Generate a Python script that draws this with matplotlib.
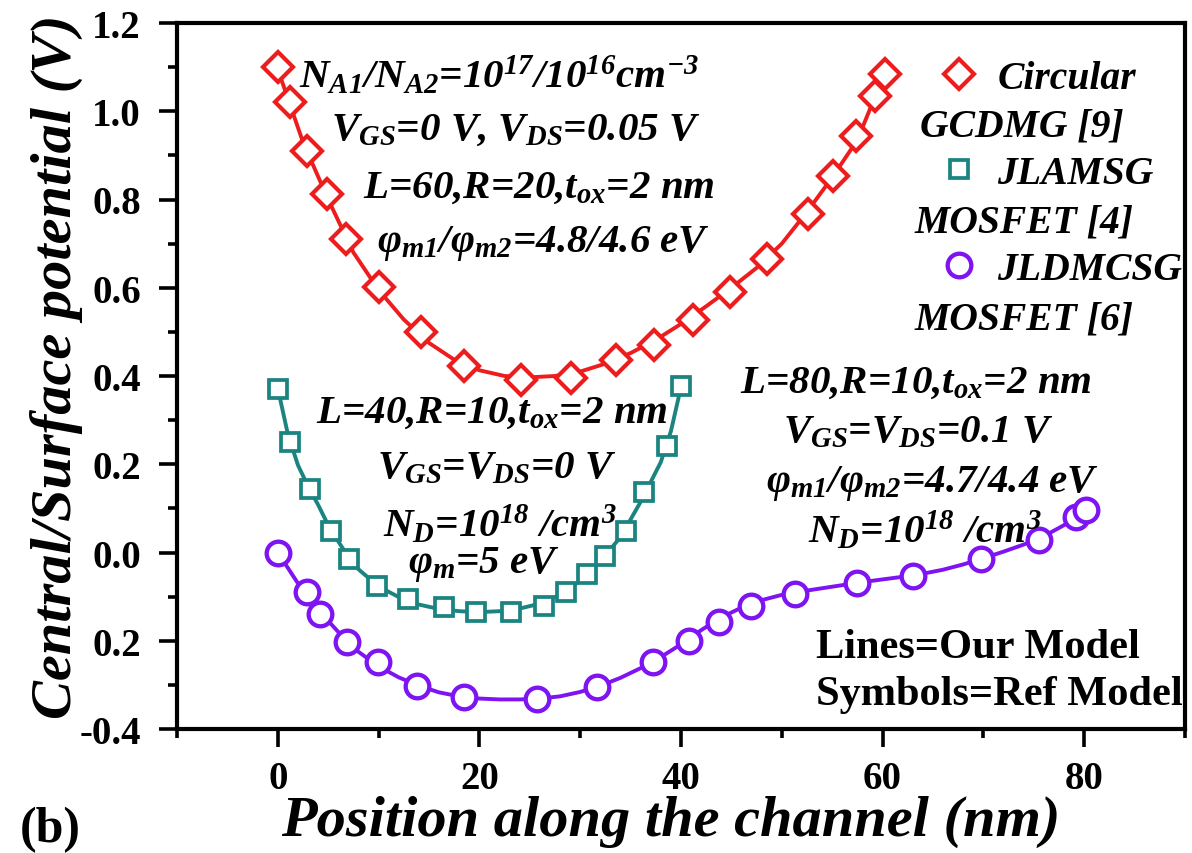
import matplotlib
matplotlib.use("Agg")
import matplotlib.pyplot as plt
from matplotlib.ticker import MultipleLocator, FixedLocator, FixedFormatter

# ---- reference-model symbols ----
gcdmg_x = [0, 1.2, 2.9, 4.9, 6.8, 10.0, 14.2, 18.5, 24.1, 29.1, 33.6, 37.3, 41.2,
           44.9, 48.5, 52.6, 55.1, 57.4, 59.2, 60.2]
gcdmg_y = [1.10, 1.02, 0.91, 0.813, 0.711, 0.602, 0.50, 0.423, 0.39, 0.396, 0.437,
           0.471, 0.528, 0.591, 0.666, 0.768, 0.854, 0.945, 1.035, 1.085]

jlamsg_x = [0, 1.2, 3.2, 5.3, 7.1, 9.8, 12.9, 16.5, 19.7, 23.1, 26.4, 28.6, 30.7,
            32.5, 34.5, 36.3, 38.6, 40.0]
jlamsg_y = [0.371, 0.251, 0.144, 0.049, -0.015, -0.076, -0.105, -0.123, -0.135,
            -0.135, -0.121, -0.089, -0.049, -0.008, 0.049, 0.137, 0.242, 0.378]

jldmcsg_x = [0, 2.9, 4.2, 6.9, 9.9, 13.8, 18.5, 25.7, 31.7, 37.2, 40.8, 43.8, 46.9,
             51.3, 57.5, 63.0, 69.8, 75.5, 79.2, 80.2]
jldmcsg_y = [0.0, -0.089, -0.139, -0.203, -0.248, -0.302, -0.327, -0.332, -0.305,
             -0.248, -0.200, -0.157, -0.121, -0.094, -0.068, -0.054, -0.015, 0.029,
             0.081, 0.097]

# ---- our-model curves ----
model60_x = [0, 2.5, 5, 7.5, 10, 12.5, 15, 17.5, 20, 22.5, 25, 27.5, 30, 32.5, 35,
             37.5, 40, 42.5, 45, 47.5, 50, 52.5, 55, 57.5, 60]
model60_y = [1.095, 0.93, 0.80, 0.68, 0.595, 0.528, 0.475, 0.437, 0.413, 0.40, 0.397,
             0.40, 0.41, 0.428, 0.452, 0.482, 0.518, 0.558, 0.60, 0.645, 0.70, 0.772,
             0.85, 0.935, 1.075]

model40_x = [0, 1, 2, 3, 4, 5, 6, 7, 8, 10, 12, 14, 16, 18, 20, 22, 24, 26, 28, 30,
             32, 34, 36, 37, 38, 39, 40]
model40_y = [0.372, 0.268, 0.198, 0.15, 0.108, 0.062, 0.025, -0.01, -0.038, -0.077,
             -0.101, -0.118, -0.128, -0.133, -0.135, -0.133, -0.127, -0.116, -0.096,
             -0.064, -0.02, 0.035, 0.115, 0.16, 0.205, 0.275, 0.375]

model80_x = [0, 2, 4, 6, 8, 10, 12, 14, 16, 18, 20, 22, 24, 26, 28, 30, 32, 34, 36,
             38, 40, 42, 44, 46, 48, 50, 52, 54, 56, 58, 60, 62, 64, 66, 68, 70, 72,
             74, 76, 78, 80]
model80_y = [0.0, -0.07, -0.13, -0.18, -0.225, -0.258, -0.283, -0.302, -0.317, -0.326,
             -0.331, -0.333, -0.333, -0.331, -0.326, -0.316, -0.302, -0.284, -0.262,
             -0.237, -0.208, -0.176, -0.147, -0.125, -0.108, -0.096, -0.088, -0.081,
             -0.074, -0.067, -0.061, -0.055, -0.048, -0.039, -0.027, -0.013, 0.002,
             0.018, 0.037, 0.062, 0.095]

y_ticks = [-0.4, -0.2, 0.0, 0.2, 0.4, 0.6, 0.8, 1.0, 1.2]
y_tick_labels = ["-0.4", "0.2", "0.0", "0.2", "0.4", "0.6", "0.8", "1.0", "1.2"]
x_ticks = [0, 20, 40, 60, 80]

RED = "#EE1D1D"
TEAL = "#1B8480"
PURPLE = "#7E14F2"

plt.rcParams["font.family"] = ["Liberation Serif", "DejaVu Serif"]
plt.rcParams["mathtext.fontset"] = "custom"
plt.rcParams["mathtext.it"] = "Liberation Serif:bold:italic"
plt.rcParams["mathtext.rm"] = "Liberation Serif:bold:italic"
plt.rcParams["mathtext.bf"] = "Liberation Serif:bold"

fig = plt.figure(figsize=(11.92, 8.54), dpi=100)
ax = fig.add_axes([177 / 1192, 124 / 854, 1008 / 1192, 706 / 854])

# model lines
ax.plot(model60_x, model60_y, color=RED, lw=2.8, zorder=2)
ax.plot(model40_x, model40_y, color=TEAL, lw=2.8, zorder=2)
ax.plot(model80_x, model80_y, color=PURPLE, lw=2.8, zorder=2)

# reference symbols
ax.plot(gcdmg_x, gcdmg_y, ls="none", marker="D", ms=15, mew=3.0, mec=RED,
        mfc="white", zorder=3, label="Circular")
ax.plot(jlamsg_x, jlamsg_y, ls="none", marker="s", ms=12.5, mew=2.7, mec=TEAL,
        mfc="white", zorder=3, label="JLAMSG")
ax.plot(jldmcsg_x, jldmcsg_y, ls="none", marker="o", ms=17, mew=3.1, mec=PURPLE,
        mfc="white", zorder=3, label="JLDMCSG")

ax.set_xlim(-10, 90)
ax.set_ylim(-0.4, 1.2)
ax.xaxis.set_major_locator(FixedLocator(x_ticks))
ax.xaxis.set_minor_locator(MultipleLocator(10))
ax.yaxis.set_major_locator(FixedLocator(y_ticks))
ax.yaxis.set_major_formatter(FixedFormatter(y_tick_labels))
ax.yaxis.set_minor_locator(MultipleLocator(0.1))

for s in ax.spines.values():
    s.set_linewidth(3)
ax.tick_params(which="major", direction="out", length=13, width=2.6, top=False,
               right=False, labelsize=28)
ax.tick_params(axis="y", which="major", pad=13)
ax.tick_params(axis="x", which="major", pad=9)
ax.tick_params(which="minor", direction="out", length=6.5, width=2.6, top=False,
               right=False)
for lab in ax.get_xticklabels() + ax.get_yticklabels():
    lab.set_fontweight("bold")

ax.set_xlabel("Position along the channel (nm)", fontsize=42, fontweight="bold",
              fontstyle="italic")
ax.xaxis.set_label_coords(0.49, -0.093)
ax.set_ylabel("Central/Surface potential (V)", fontsize=42, fontweight="bold",
              fontstyle="italic")
ax.yaxis.set_label_coords(-0.093, 0.515)

fig.text(20 / 1192, 1 - 842 / 854, "(b)", fontsize=36, fontweight="bold",
         ha="left", va="baseline")

bi = dict(fontsize=29.5, fontweight="bold", fontstyle="italic", ha="center",
          va="baseline")

# device conditions, circular GCDMG
ax.text(21.9, 1.056, r"$N_{A1}/N_{A2}$=10$^{17}$/10$^{16}$cm$^{-3}$", **bi)
ax.text(23.6, 0.938, r"$V_{GS}$=0 V, $V_{DS}$=0.05 V", **bi)
ax.text(25.9, 0.806, r"L=60,R=20,$t_{ox}$=2 nm", **bi)
ax.text(26.4, 0.684, r"φ$_{m1}$/φ$_{m2}$=4.8/4.6 eV", **bi)

# device conditions, JLAMSG
ax.text(21.2, 0.296, r"L=40,R=10,$t_{ox}$=2 nm", **bi)
ax.text(21.7, 0.171, r"$V_{GS}$=$V_{DS}$=0 V", **bi)
ax.text(22.0, 0.038, r"$N_D$=10$^{18}$ /cm$^3$", **bi)
ax.text(20.5, -0.044, r"φ$_m$=5 eV", **bi)

# device conditions, JLDMCSG
ax.text(63.3, 0.364, r"L=80,R=10,$t_{ox}$=2 nm", **bi)
ax.text(63.5, 0.251, r"$V_{GS}$=$V_{DS}$=0.1 V", **bi)
ax.text(65.0, 0.140, r"φ$_{m1}$/φ$_{m2}$=4.7/4.4 eV", **bi)
ax.text(64.2, 0.024, r"$N_D$=10$^{18}$ /cm$^3$", **bi)

ax.text(53.4, -0.237, "Lines=Our Model", fontsize=30.5, fontweight="bold",
        ha="left", va="baseline")
ax.text(53.4, -0.343, "Symbols=Ref Model", fontsize=30.5, fontweight="bold",
        ha="left", va="baseline")

# legend (first line of each entry) and its continuation lines
leg = ax.legend(loc="upper left", bbox_to_anchor=(0.757, 0.948), frameon=False,
                borderpad=0, borderaxespad=0, handlelength=0.95,
                handletextpad=0.5, labelspacing=1.48,
                prop=dict(family="Liberation Serif", weight="bold",
                          style="italic", size=28.5))
li = dict(fontsize=28.5, fontweight="bold", fontstyle="italic", ha="left",
          va="baseline")
ax.text(63.7, 0.945, "GCDMG [9]", **li)
ax.text(63.2, 0.727, "MOSFET [4]", **li)
ax.text(63.2, 0.507, "MOSFET [6]", **li)

fig.savefig("out.png", dpi=100)
